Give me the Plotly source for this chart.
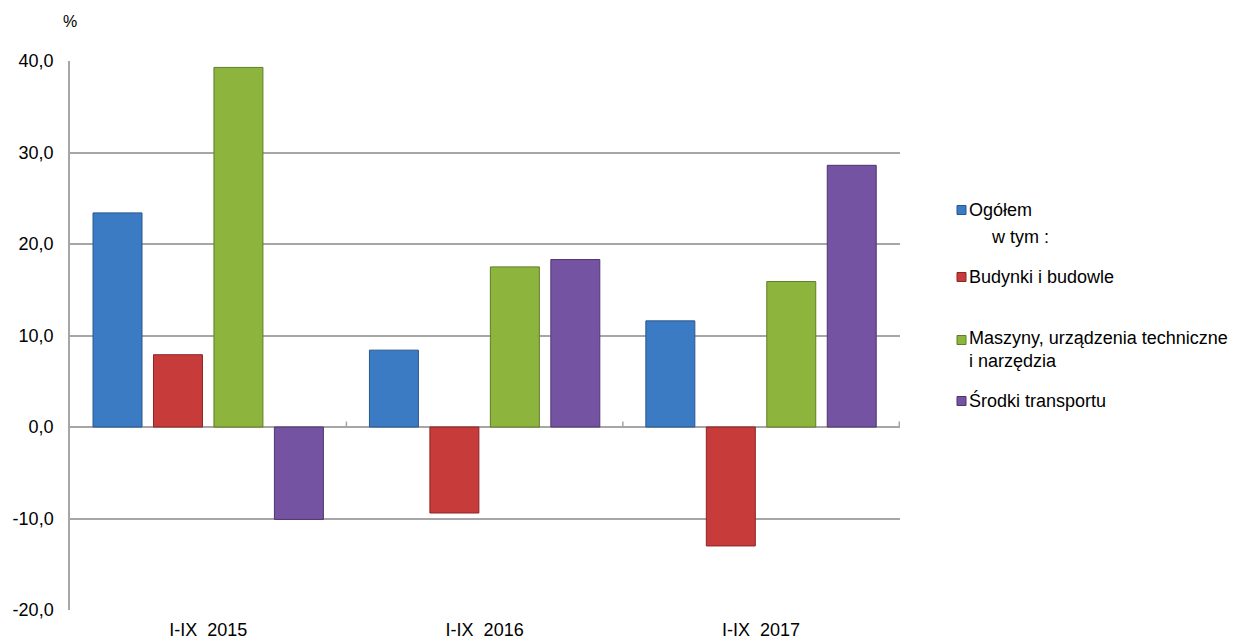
import plotly.graph_objects as go

# ---- data ----
categories = ["I-IX\u00a0\u00a02015", "I-IX\u00a0\u00a02016", "I-IX\u00a0\u00a02017"]
series_names = ["Ogółem", "Budynki i budowle", "Maszyny, urządzenia techniczne i narzędzia", "Środki transportu"]
ogolem = [23.4, 8.4, 11.6]
budynki = [7.9, -9.4, -13.0]
maszyny = [39.3, 17.5, 15.9]
srodki = [-10.1, 18.3, 28.6]
y_tick_vals = [-20, -10, 0, 10, 20, 30, 40]
y_tick_text = ["-20,0", "-10,0", "0,0", "10,0", "20,0", "30,0", "40,0"]

colors = ["#3B7BC4", "#C73B3B", "#8DB53E", "#7553A3"]
edge_colors = ["#28578F", "#8E2424", "#5F7D25", "#4F356F"]
values = [ogolem, budynki, maszyny, srodki]

FONT = "Liberation Sans, Arial, sans-serif"
GRID = "#A6A6A6"
FS = 18

fig = go.Figure()
for name, vals, c, ec in zip(series_names, values, colors, edge_colors):
    fig.add_trace(go.Bar(
        x=categories, y=vals, name=name,
        marker=dict(color=c, line=dict(color=ec, width=1)),
        showlegend=False,
    ))

# page offset from default body margin
OFF = 8
W, H = 1240 - OFF, 639 - OFF
# plot area in page pixels: left 70, right 900, top 61, bottom 610
L = 70 - OFF
T = 61 - OFF
R = W - (900 - OFF)
B = H - (610 - OFF)
pw, ph = W - L - R, H - T - B

def px(x):  # page pixel -> paper
    return (x - OFF - L) / pw

def py(y):
    return (H - B - (y - OFF)) / ph

annotations = [
    dict(text="%", x=px(70), y=py(22), xref="paper", yref="paper", xanchor="center",
         yanchor="middle", showarrow=False, font=dict(family=FONT, size=FS - 2, color="#000")),
]
shapes = []

legend_items = [
    ("Ogółem", 0, 210),
    ("Budynki i budowle", 1, 277),
    ("Maszyny, urządzenia techniczne<br>i narzędzia", 2, 340),
    ("Środki transportu", 3, 401),
]
for text, idx, yc in legend_items:
    shapes.append(dict(type="rect", xref="paper", yref="paper",
                       x0=px(957), x1=px(966), y0=py(yc + 4.5), y1=py(yc - 4.5),
                       fillcolor=colors[idx], line=dict(color=edge_colors[idx], width=1)))
    yy = yc if idx != 2 else yc + 9
    annotations.append(dict(text=text, x=px(967), y=py(yy), xref="paper", yref="paper",
                            xanchor="left", yanchor="middle", align="left", showarrow=False,
                            font=dict(family=FONT, size=FS, color="#000")))
annotations.append(dict(text="w tym :", x=px(989), y=py(237), xref="paper", yref="paper",
                        xanchor="left", yanchor="middle", showarrow=False,
                        font=dict(family=FONT, size=FS, color="#000")))

# small category-boundary ticks on the zero line
for xb in [0.5, 1.5, 2.5]:
    shapes.append(dict(type="line", xref="x", yref="y", x0=xb, x1=xb, y0=0, y1=0.6,
                       line=dict(color=GRID, width=1.5)))

fig.update_layout(
    width=W, height=H,
    margin=dict(l=L, r=R, t=T, b=B, autoexpand=False),
    paper_bgcolor="white", plot_bgcolor="white",
    barmode="group", bargap=0.125, bargroupgap=0.19,
    font=dict(family=FONT, size=FS, color="#000"),
    annotations=annotations, shapes=shapes,
    xaxis=dict(showgrid=False, showline=False, ticks="", tickfont=dict(size=FS),
               ticklabelstandoff=7, automargin=False),
    yaxis=dict(range=[-20, 40], tickvals=y_tick_vals, ticktext=y_tick_text,
               showgrid=True, gridcolor=GRID, gridwidth=1.5,
               zeroline=True, zerolinecolor=GRID, zerolinewidth=2,
               showline=True, linecolor=GRID, linewidth=1.5,
               ticklabelstandoff=11, tickfont=dict(size=FS), automargin=False),
)

fig.write_html("out.html")
